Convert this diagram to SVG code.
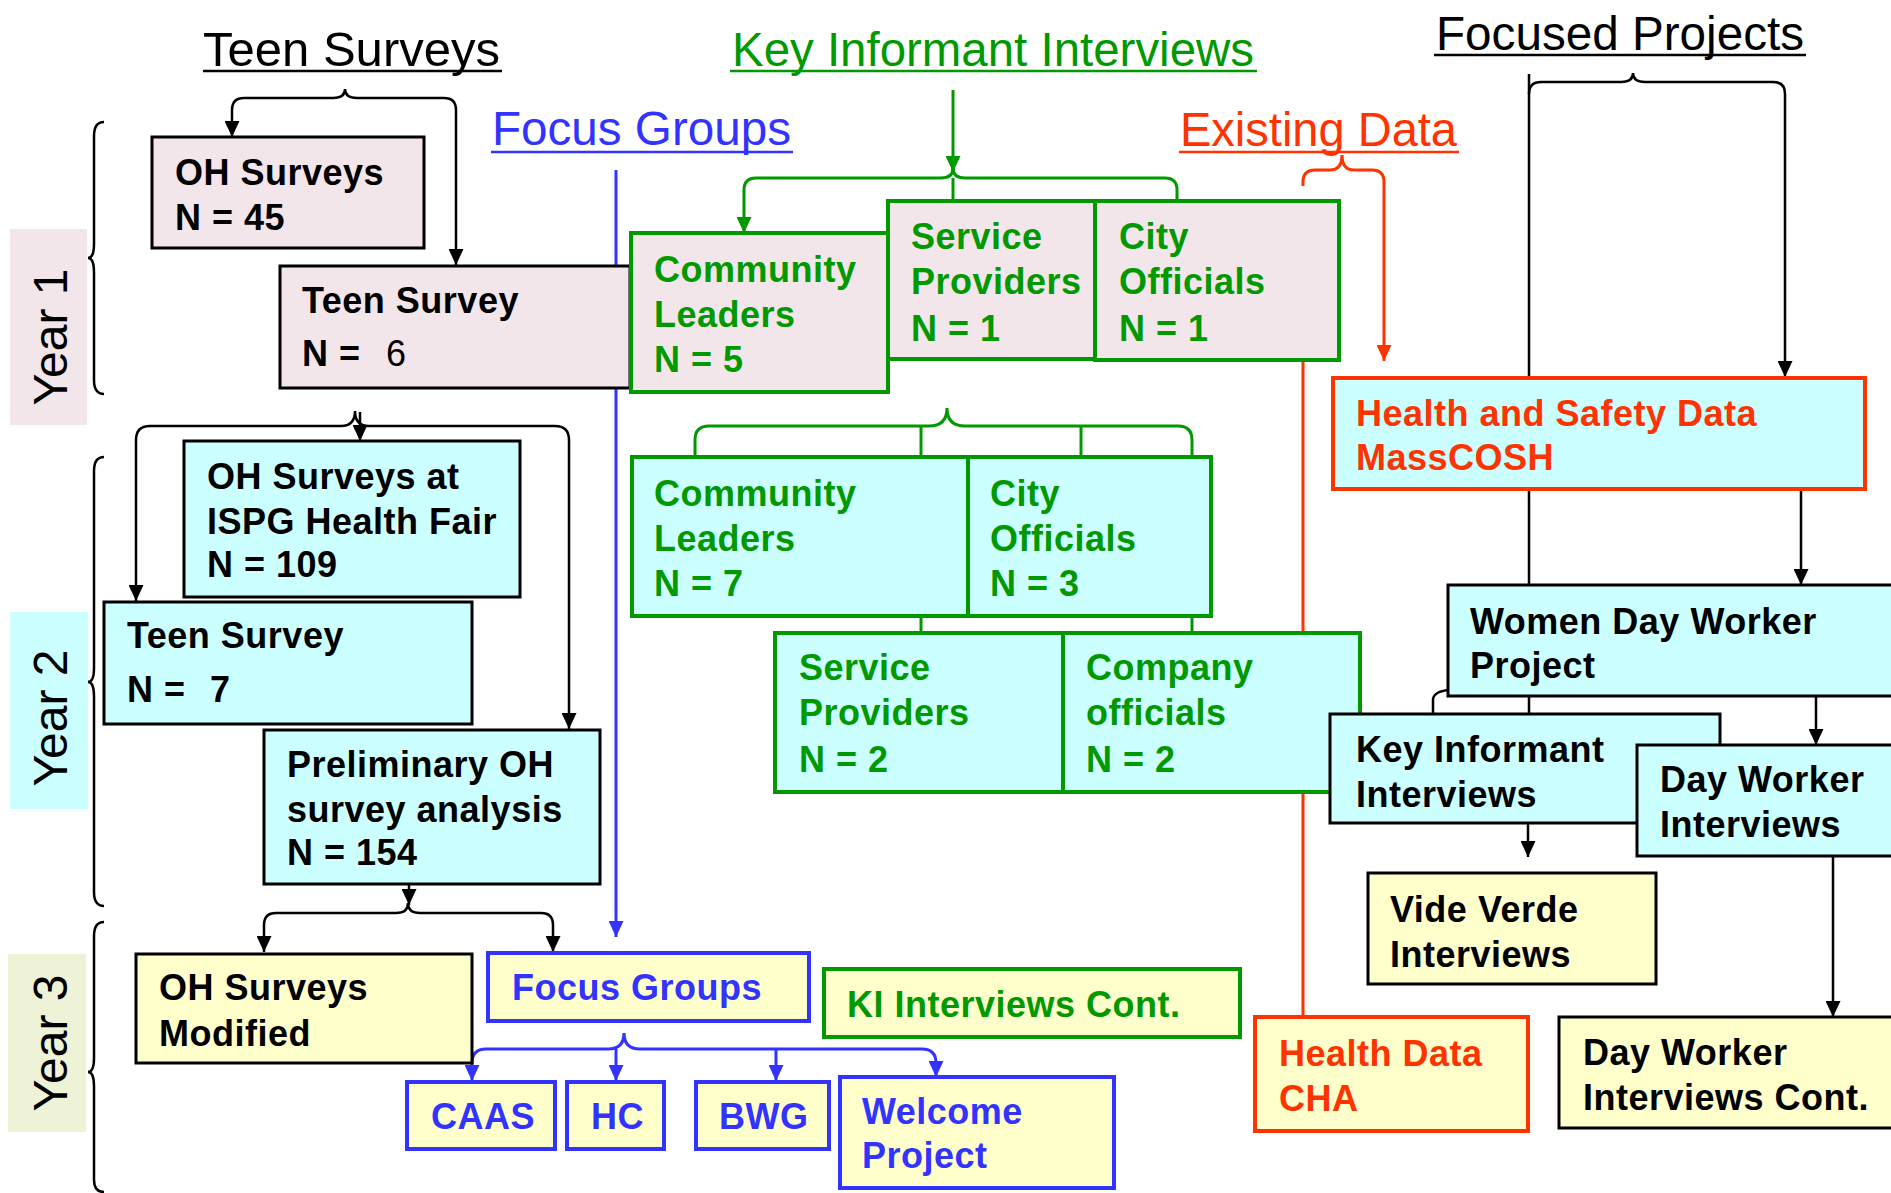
<svg xmlns="http://www.w3.org/2000/svg" width="1891" height="1193" viewBox="0 0 1891 1193">
<style>
text{font-family:"Liberation Sans",Arial,Helvetica,sans-serif;}
.h{font-size:48px;}
.y{font-size:48px;fill:#000;}
.b{font-size:36px;font-weight:bold;letter-spacing:0.5px;}
.k{fill:#000;}
.g{fill:#009900;}
.u{fill:#3333ff;}
.r{fill:#ff3300;}
.pk{fill:#f2e6ea;}
.cy{fill:#ccffff;}
.yl{fill:#ffffcc;}
.sk{stroke:#000;stroke-width:3;}
.sg{stroke:#009900;stroke-width:4;}
.su{stroke:#3333ff;stroke-width:4;}
.sr{stroke:#ff3300;stroke-width:4;}
.ck{fill:none;stroke:#000;stroke-width:2.5;}
.cg{fill:none;stroke:#009900;stroke-width:3;}
.cu{fill:none;stroke:#3333ff;stroke-width:3;}
.cr{fill:none;stroke:#ff3300;stroke-width:3;}
.ak{marker-end:url(#ak);}
.ag{marker-end:url(#ag);}
.au{marker-end:url(#au);}
.ar{marker-end:url(#ar);}
</style>
<defs>
<marker id="ak" markerUnits="userSpaceOnUse" markerWidth="16" markerHeight="15" refX="16" refY="7.5" orient="auto-start-reverse"><path d="M0,0 L16,7.5 L0,15 z" fill="#000"/></marker>
<marker id="ag" markerUnits="userSpaceOnUse" markerWidth="16" markerHeight="15" refX="16" refY="7.5" orient="auto-start-reverse"><path d="M0,0 L16,7.5 L0,15 z" fill="#009900"/></marker>
<marker id="au" markerUnits="userSpaceOnUse" markerWidth="16" markerHeight="15" refX="16" refY="7.5" orient="auto-start-reverse"><path d="M0,0 L16,7.5 L0,15 z" fill="#3333ff"/></marker>
<marker id="ar" markerUnits="userSpaceOnUse" markerWidth="16" markerHeight="15" refX="16" refY="7.5" orient="auto-start-reverse"><path d="M0,0 L16,7.5 L0,15 z" fill="#ff3300"/></marker>
</defs>
<rect width="1891" height="1193" fill="#fff"/>

<g id="headings">
<text class="h k" x="203" y="66" textLength="297" lengthAdjust="spacingAndGlyphs">Teen Surveys</text>
<line x1="203" y1="71" x2="502" y2="71" stroke="#000" stroke-width="2.5"/>
<text class="h g" x="732" y="66" textLength="522" lengthAdjust="spacingAndGlyphs">Key Informant Interviews</text>
<line x1="730" y1="71" x2="1257" y2="71" stroke="#009900" stroke-width="2.5"/>
<text class="h u" x="492" y="145" textLength="299" lengthAdjust="spacingAndGlyphs">Focus Groups</text>
<line x1="491" y1="152" x2="793" y2="152" stroke="#3333ff" stroke-width="2.5"/>
<text class="h r" x="1180" y="146" textLength="277" lengthAdjust="spacingAndGlyphs">Existing Data</text>
<line x1="1179" y1="152" x2="1459" y2="152" stroke="#ff3300" stroke-width="2.5"/>
<text class="h k" x="1436" y="50" textLength="368" lengthAdjust="spacingAndGlyphs">Focused Projects</text>
<line x1="1434" y1="55" x2="1806" y2="55" stroke="#000" stroke-width="2.5"/>
</g>

<g id="year-labels">
<rect x="10" y="229" width="77" height="196" fill="#f2e6ea"/>
<text class="y" transform="translate(67,337) rotate(-90)" text-anchor="middle">Year 1</text>
<rect x="10" y="612" width="78" height="197" fill="#ccffff"/>
<text class="y" transform="translate(67,718) rotate(-90)" text-anchor="middle">Year 2</text>
<rect x="8" y="954" width="78" height="178" fill="#eef2d6"/>
<text class="y" transform="translate(67,1043) rotate(-90)" text-anchor="middle">Year 3</text>
<path class="ck" d="M104,122 Q94,122 94,136 L94,244 Q94,258 88,258 Q94,258 94,272 L94,380 Q94,394 104,394"/>
<path class="ck" d="M104,457 Q94,457 94,471 L94,668 Q94,682 88,682 Q94,682 94,696 L94,892 Q94,906 104,906"/>
<path class="ck" d="M104,922 Q94,922 94,936 L94,1058 Q94,1072 88,1072 Q94,1072 94,1086 L94,1180 Q94,1192 104,1192"/>
</g>

<g id="connectors">
<path class="ck" marker-start="url(#ak)" marker-end="url(#ak)" d="M232,137 L232,110 Q232,98 244,98 L333,98 Q345,98 345,89 Q345,98 357,98 L444,98 Q456,98 456,110 L456,265"/>
<path class="ck" marker-start="url(#ak)" marker-end="url(#ak)" d="M136,601 L136,440 Q136,426 150,426 L341,426 Q355,426 355,411 Q355,426 369,426 L555,426 Q569,426 569,440 L569,729"/>
<line class="ck ak" x1="360" y1="412" x2="360" y2="441"/>
<line class="ck ak" x1="409" y1="876" x2="409" y2="905"/>
<path class="ck" marker-start="url(#ak)" marker-end="url(#ak)" d="M264,952 L264,925 Q264,913 276,913 L396,913 Q408,913 408,903 Q408,913 420,913 L541,913 Q553,913 553,925 L553,952"/>
<line class="cu au" x1="616" y1="170" x2="616" y2="937"/>
<path class="cu" marker-start="url(#au)" marker-end="url(#au)" d="M472,1081 L472,1063 Q472,1049 486,1049 L608,1049 Q624,1049 624,1033 Q624,1049 640,1049 L922,1049 Q936,1049 936,1063 L936,1077"/>
<line class="cu au" x1="616" y1="1049" x2="616" y2="1081"/>
<line class="cu au" x1="776" y1="1049" x2="776" y2="1081"/>
<line class="cg ag" x1="953" y1="90" x2="953" y2="172"/>
<path class="cg" marker-start="url(#ag)" d="M744,233 L744,190 Q744,178 756,178 L941,178 Q953,178 953,168 Q953,178 965,178 L1165,178 Q1177,178 1177,190 L1177,201"/>
<line class="cg" x1="953" y1="178" x2="953" y2="201"/>
<path class="cg" d="M695,457 L695,440 Q695,426 709,426 L929,426 Q947,426 947,408 Q947,426 965,426 L1178,426 Q1192,426 1192,440 L1192,457"/>
<line class="cg" x1="921" y1="426" x2="921" y2="457"/>
<line class="cg" x1="1081" y1="426" x2="1081" y2="457"/>
<line class="cg" x1="921" y1="616" x2="921" y2="633"/>
<line class="cg" x1="1192" y1="616" x2="1192" y2="633"/>
<path class="cr" marker-end="url(#ar)" d="M1303,186 L1303,182 Q1303,170 1315,170 L1330,170 Q1342,170 1342,155 Q1342,170 1354,170 L1372,170 Q1384,170 1384,182 L1384,361"/>
<line class="cr" x1="1303" y1="358" x2="1303" y2="1017"/>
<line class="ck" x1="1529" y1="74" x2="1529" y2="714"/>
<path class="ck" marker-end="url(#ak)" d="M1529,94 Q1529,82 1541,82 L1621,82 Q1633,82 1633,73 Q1633,82 1645,82 L1773,82 Q1785,82 1785,94 L1785,377"/>
<line class="ck ak" x1="1801" y1="489" x2="1801" y2="585"/>
<line class="ck ak" x1="1816" y1="696" x2="1816" y2="745"/>
<line class="ck ak" x1="1833" y1="856" x2="1833" y2="1017"/>
<line class="ck ak" x1="1528" y1="823" x2="1528" y2="857"/>
<path class="ck" d="M1433,714 L1433,700 Q1433,692 1448,690"/>
</g>

<g id="n-oh-surveys">
<rect class="pk sk" x="152" y="137" width="272" height="111"/>
<text class="b k" x="175" y="185">OH Surveys</text>
<text class="b k" x="175" y="230">N = 45</text>
</g>
<g id="n-teen-survey-1">
<rect class="pk sk" x="280" y="266" width="350" height="122"/>
<text class="b k" x="302" y="313">Teen Survey</text>
<text class="b k" x="302" y="366">N =<tspan x="386" font-weight="normal">6</tspan></text>
</g>
<g id="n-cl-1">
<rect class="pk sg" x="631" y="233" width="257" height="159"/>
<text class="b g" x="654" y="282">Community</text>
<text class="b g" x="654" y="327">Leaders</text>
<text class="b g" x="654" y="372">N = 5</text>
</g>
<g id="n-sp-1">
<rect class="pk sg" x="888" y="201" width="207" height="158"/>
<text class="b g" x="911" y="249">Service</text>
<text class="b g" x="911" y="294">Providers</text>
<text class="b g" x="911" y="341">N = 1</text>
</g>
<g id="n-co-1">
<rect class="pk sg" x="1095" y="201" width="244" height="159"/>
<text class="b g" x="1119" y="249">City</text>
<text class="b g" x="1119" y="294">Officials</text>
<text class="b g" x="1119" y="341">N = 1</text>
</g>

<g id="n-oh-ispg">
<rect class="cy sk" x="184" y="441" width="336" height="156"/>
<text class="b k" x="207" y="489">OH Surveys at</text>
<text class="b k" x="207" y="534">ISPG Health Fair</text>
<text class="b k" x="207" y="577">N = 109</text>
</g>
<g id="n-teen-survey-2">
<rect class="cy sk" x="104" y="602" width="368" height="122"/>
<text class="b k" x="127" y="648">Teen Survey</text>
<text class="b k" x="127" y="702">N =<tspan x="210">7</tspan></text>
</g>
<g id="n-preliminary">
<rect class="cy sk" x="264" y="730" width="336" height="154"/>
<text class="b k" x="287" y="777">Preliminary OH</text>
<text class="b k" x="287" y="822">survey analysis</text>
<text class="b k" x="287" y="865">N = 154</text>
</g>
<g id="n-cl-2">
<rect class="cy sg" x="632" y="457" width="336" height="159"/>
<text class="b g" x="654" y="506">Community</text>
<text class="b g" x="654" y="551">Leaders</text>
<text class="b g" x="654" y="596">N = 7</text>
</g>
<g id="n-co-2">
<rect class="cy sg" x="968" y="457" width="243" height="159"/>
<text class="b g" x="990" y="506">City</text>
<text class="b g" x="990" y="551">Officials</text>
<text class="b g" x="990" y="596">N = 3</text>
</g>
<g id="n-sp-2">
<rect class="cy sg" x="775" y="633" width="288" height="159"/>
<text class="b g" x="799" y="680">Service</text>
<text class="b g" x="799" y="725">Providers</text>
<text class="b g" x="799" y="772">N = 2</text>
</g>
<g id="n-company">
<rect class="cy sg" x="1063" y="633" width="297" height="159"/>
<text class="b g" x="1086" y="680">Company</text>
<text class="b g" x="1086" y="725">officials</text>
<text class="b g" x="1086" y="772">N = 2</text>
</g>
<g id="n-hs-data">
<rect class="cy sr" x="1333" y="378" width="532" height="111"/>
<text class="b r" x="1356" y="426">Health and Safety Data</text>
<text class="b r" x="1356" y="470">MassCOSH</text>
</g>
<g id="n-wdw">
<rect class="cy sk" x="1448" y="585" width="460" height="111"/>
<text class="b k" x="1470" y="634">Women Day Worker</text>
<text class="b k" x="1470" y="678">Project</text>
</g>
<g id="n-ki-int">
<rect class="cy sk" x="1330" y="714" width="390" height="109"/>
<text class="b k" x="1356" y="762">Key Informant</text>
<text class="b k" x="1356" y="807">Interviews</text>
</g>
<g id="n-dwi">
<rect class="cy sk" x="1637" y="745" width="270" height="111"/>
<text class="b k" x="1660" y="792">Day Worker</text>
<text class="b k" x="1660" y="837">Interviews</text>
</g>
<g id="n-vide-verde">
<rect class="yl sk" x="1368" y="873" width="288" height="111"/>
<text class="b k" x="1390" y="922">Vide Verde</text>
<text class="b k" x="1390" y="967">Interviews</text>
</g>

<g id="n-oh-modified">
<rect class="yl sk" x="136" y="954" width="336" height="109"/>
<text class="b k" x="159" y="1000">OH Surveys</text>
<text class="b k" x="159" y="1046">Modified</text>
</g>
<g id="n-focus-groups">
<rect class="yl su" x="488" y="953" width="321" height="68"/>
<text class="b u" x="512" y="1000">Focus Groups</text>
</g>
<g id="n-ki-cont">
<rect class="yl sg" x="824" y="969" width="416" height="68"/>
<text class="b g" x="847" y="1017">KI Interviews Cont.</text>
</g>
<g id="n-health-cha">
<rect class="yl sr" x="1255" y="1017" width="273" height="114"/>
<text class="b r" x="1279" y="1066">Health Data</text>
<text class="b r" x="1279" y="1111">CHA</text>
</g>
<g id="n-dwi-cont">
<rect class="yl sk" x="1559" y="1017" width="350" height="111"/>
<text class="b k" x="1583" y="1065">Day Worker</text>
<text class="b k" x="1583" y="1110">Interviews Cont.</text>
</g>
<g id="n-caas">
<rect class="yl su" x="407" y="1082" width="148" height="67"/>
<text class="b u" x="431" y="1129">CAAS</text>
</g>
<g id="n-hc">
<rect class="yl su" x="567" y="1082" width="97" height="67"/>
<text class="b u" x="591" y="1129">HC</text>
</g>
<g id="n-bwg">
<rect class="yl su" x="696" y="1082" width="133" height="67"/>
<text class="b u" x="719" y="1129">BWG</text>
</g>
<g id="n-welcome">
<rect class="yl su" x="840" y="1077" width="274" height="111"/>
<text class="b u" x="862" y="1124">Welcome</text>
<text class="b u" x="862" y="1168">Project</text>
</g>
</svg>
